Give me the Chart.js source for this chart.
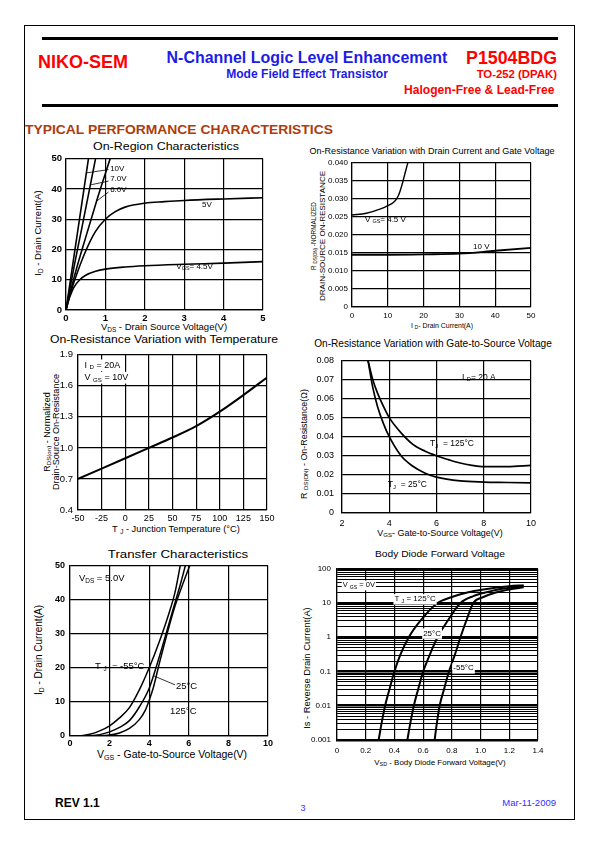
<!DOCTYPE html>
<html><head><meta charset="utf-8">
<script src="https://cdn.jsdelivr.net/npm/chart.js@4.4.1/dist/chart.umd.min.js"></script>
<style>
html,body{margin:0;padding:0;background:#fff;}
body{width:595px;height:842px;position:relative;overflow:hidden;font-family:"Liberation Sans",Arial,sans-serif;}
.t{position:absolute;white-space:nowrap;line-height:1;color:#000;}
.t sub{font-size:0.68em;vertical-align:-0.25em;line-height:0;}
canvas{position:absolute;}
.ln{position:absolute;background:#000;}
.frame{position:absolute;left:24px;top:25px;width:549px;height:793px;border:1px solid #000;}
</style></head><body>
<div class="frame"></div>
<div class="ln" style="left:42px;top:37px;width:516px;height:3px;"></div>
<div class="ln" style="left:42px;top:104px;width:516px;height:3px;"></div>
<script>
// ================= DATA =================
// 1) On-Region Characteristics: VDS (V) vs ID (A)
const onRegionVds10V = [0, 0.3, 0.57];
const onRegionId10V  = [0, 26.3, 50];
const onRegionVds7V  = [0, 0.2, 0.4, 0.75];
const onRegionId7V   = [0, 14, 27, 50];
const onRegionVds6V  = [0, 0.2, 0.5, 0.8, 1.12];
const onRegionId6V   = [0, 10.5, 24, 37, 50];
const onRegionVds5V  = [0, 0.1, 0.25, 0.5, 0.75, 1, 1.25, 1.5, 2, 2.5, 3, 4, 5];
const onRegionId5V   = [0, 5, 11, 19.5, 26, 30, 32.5, 34, 35.3, 35.8, 36.2, 36.7, 37.1];
const onRegionVds45V = [0, 0.05, 0.1, 0.2, 0.35, 0.5, 0.75, 1, 1.5, 2, 3, 4, 5];
const onRegionId45V  = [0, 2.5, 4.5, 7.5, 10, 11.5, 12.8, 13.5, 14.2, 14.6, 15.1, 15.5, 16];

// 2) On-Resistance vs Drain Current: ID (A) vs RDS(on) (ohm)
const rdsIdCurrent45V = [0, 4, 8, 10, 12, 13, 14, 15, 15.6];
const rdsIdValue45V   = [0.0255, 0.026, 0.0272, 0.0281, 0.0294, 0.031, 0.034, 0.0378, 0.040];
const rdsIdCurrent10V = [0, 10, 20, 30, 40, 50];
const rdsIdValue10V   = [0.0145, 0.0145, 0.0146, 0.0148, 0.0156, 0.0164];

// 3) On-Resistance vs Temperature: TJ (°C) vs normalized RDS(on)
const rdsTempT     = [-50, -25, 0, 25, 50, 75, 100, 125, 150];
const rdsTempNorm  = [0.70, 0.80, 0.90, 1.00, 1.10, 1.21, 1.35, 1.51, 1.68];

// 4) On-Resistance vs VGS: VGS (V) vs RDS(on) (ohm)
const rdsVgs125   = [3.1, 3.3, 3.5, 3.75, 4, 4.5, 5, 5.5, 6, 6.5, 7, 7.5, 8, 9, 10];
const rdsVal125   = [0.08, 0.07, 0.063, 0.056, 0.05, 0.042, 0.036, 0.0325, 0.030, 0.028, 0.0262, 0.025, 0.0243, 0.0243, 0.025];
const rdsVgs25    = [3.1, 3.3, 3.5, 3.75, 4, 4.5, 5, 5.5, 6, 7, 8, 9, 10];
const rdsVal25    = [0.08, 0.066, 0.056, 0.047, 0.040, 0.030, 0.0245, 0.021, 0.0188, 0.0168, 0.0162, 0.016, 0.0158];

// 5) Transfer Characteristics: VGS (V) vs ID (A)
const transferVgsM55 = [0.5, 1, 1.5, 2, 2.5, 3, 3.5, 4, 4.5, 5, 5.3, 5.57];
const transferIdM55  = [0, 0.5, 1.5, 3, 5.3, 8.3, 13.5, 20, 27.5, 36, 42, 50];
const transferVgs25  = [0.8, 1.5, 2, 2.5, 3, 3.5, 4, 4.5, 5, 5.3, 5.6, 5.83];
const transferId25   = [0, 0.4, 1.2, 2.5, 4.5, 8.5, 14, 23, 33, 39, 45, 50];
const transferVgs125 = [1.2, 2, 2.5, 3, 3.5, 3.8, 4, 4.2, 4.5, 5, 5.3, 5.6, 6.05];
const transferId125  = [0, 0.3, 0.9, 2.2, 4.8, 7.5, 10.5, 14, 21, 32, 38, 43, 50];

// 6) Body Diode Forward Voltage: VSD (V) vs IS (A)
const diodeVsd125 = [0.29, 0.31, 0.335, 0.365, 0.40, 0.44, 0.50, 0.58, 0.70, 0.80, 0.90, 1.00, 1.10, 1.20, 1.30];
const diodeIs125  = [0.001, 0.003, 0.01, 0.03, 0.1, 0.3, 1, 3, 10, 15, 20, 24, 28, 31, 33];
const diodeVsd25  = [0.49, 0.51, 0.535, 0.565, 0.60, 0.645, 0.70, 0.77, 0.86, 0.95, 1.05, 1.15, 1.30];
const diodeIs25   = [0.001, 0.003, 0.01, 0.03, 0.1, 0.3, 1, 3, 10, 16, 21, 26, 31];
const diodeVsdM55 = [0.68, 0.695, 0.715, 0.745, 0.78, 0.82, 0.86, 0.90, 0.95, 1.02, 1.10, 1.20, 1.30];
const diodeIsM55  = [0.001, 0.003, 0.01, 0.03, 0.1, 0.3, 1, 3, 10, 15, 20, 25, 29];
const diodeDecades = [0.001, 0.01, 0.1, 1, 10, 100];
const diodeMinorSteps = [1, 2, 3, 4, 5, 6, 7, 8, 9];

// ================= HELPERS =================
const F = '"Liberation Sans", Arial, sans-serif';

function T(html, x, y, o = {}) {
  const d = document.createElement('div');
  d.className = 't';
  d.innerHTML = html;
  d.style.left = x + 'px';
  d.style.top = y + 'px';
  d.style.fontSize = (o.size || 10) + 'px';
  if (o.bold) d.style.fontWeight = 'bold';
  if (o.color) d.style.color = o.color;
  document.body.appendChild(d);
  let sx = 1;
  if (o.width) sx = o.width / d.offsetWidth;
  let tr;
  if (o.rot) {
    tr = `translate(-50%,-50%) rotate(-90deg) scale(${sx},1)`;
  } else if (o.anchor === 'left') {
    d.style.transformOrigin = 'left center';
    tr = `translate(0,-50%) scale(${sx},1)`;
  } else if (o.anchor === 'right') {
    d.style.transformOrigin = 'right center';
    tr = `translate(-100%,-50%) scale(${sx},1)`;
  } else {
    tr = `translate(-50%,-50%) scale(${sx},1)`;
  }
  d.style.transform = tr;
  return d;
}

function drawRich(ctx, str, x, y, size, bold, bg) {
  const parts = []; const re = /_\{([^}]*)\}/g; let last = 0, m;
  while ((m = re.exec(str))) {
    if (m.index > last) parts.push({ t: str.slice(last, m.index) });
    parts.push({ t: m[1], sub: true });
    last = re.lastIndex;
  }
  if (last < str.length) parts.push({ t: str.slice(last) });
  const w = bold ? 'bold ' : '';
  let total = 0;
  parts.forEach(p => { ctx.font = w + (p.sub ? size * 0.68 : size) + 'px ' + F; p.w = ctx.measureText(p.t).width; total += p.w; });
  if (bg) { ctx.fillStyle = '#fff'; ctx.fillRect(x - 1, y - size * 0.62, total + 2, size * 1.3); }
  ctx.fillStyle = '#000'; ctx.textBaseline = 'middle'; ctx.textAlign = 'left';
  let cx = x;
  parts.forEach(p => {
    ctx.font = w + (p.sub ? size * 0.68 : size) + 'px ' + F;
    ctx.fillText(p.t, cx, p.sub ? y + size * 0.28 : y);
    cx += p.w;
  });
}

const notesPlugin = {
  id: 'notes',
  afterDatasetsDraw(chart, args, opts) {
    const { ctx, scales: { x, y } } = chart;
    ctx.save();
    (opts.lines || []).forEach(l => {
      ctx.beginPath();
      ctx.moveTo(x.getPixelForValue(l[0]), y.getPixelForValue(l[1]));
      ctx.lineTo(x.getPixelForValue(l[2]), y.getPixelForValue(l[3]));
      ctx.lineWidth = 0.8; ctx.strokeStyle = '#000'; ctx.stroke();
    });
    (opts.labels || []).forEach(lb => drawRich(ctx, lb.text, x.getPixelForValue(lb.x), y.getPixelForValue(lb.y), lb.size || 8, lb.bold, lb.bg));
    ctx.restore();
  }
};
Chart.register(notesPlugin);

function series(xs, ys, w) {
  return { data: xs.map((v, i) => ({ x: v, y: ys[i] })), borderColor: '#000', borderWidth: w || 1.6,
    pointRadius: 0, cubicInterpolationMode: 'monotone', fill: false, showLine: true };
}

function linAxis(min, max, step, size, bold, pad, cb) {
  return {
    type: 'linear', min, max,
    ticks: { stepSize: step, color: '#000', font: { family: F, size, weight: bold ? 'bold' : 'normal' }, padding: pad, autoSkip: false, maxRotation: 0,
      callback: cb || (v => String(v)) },
    grid: { color: '#000', lineWidth: 1.2, drawTicks: false },
    border: { color: '#000', width: 1.2 }
  };
}

function makeChart(area, yW, xH, datasets, scales, notes) {
  const padL = 4, padT = 8, padR = 16, padB = 2;
  const c = document.createElement('canvas');
  const W = (area.r - area.l) + yW + padL + padR, H = (area.b - area.t) + padT + xH + padB;
  c.width = W; c.height = H; c.style.width = W + 'px'; c.style.height = H + 'px';
  c.style.left = (area.l - yW - padL) + 'px'; c.style.top = (area.t - padT) + 'px';
  document.body.appendChild(c);
  scales.x.afterFit = s => { s.height = xH; };
  scales.y.afterFit = s => { s.width = yW; };
  return new Chart(c, {
    type: 'line',
    data: { datasets },
    options: {
      responsive: false, maintainAspectRatio: false, animation: false, devicePixelRatio: 1, events: [],
      layout: { padding: { left: padL, top: padT, right: padR, bottom: padB } },
      plugins: { legend: { display: false }, tooltip: { enabled: false }, title: { display: false }, notes: notes || {} },
      scales
    }
  });
}

// ================= PAGE TEXT =================
const RED = '#ff0000', BLUE = '#1c1ce8', BROWN = '#ae3b0c';
T('NIKO-SEM', 38, 62, { size: 18, bold: true, color: RED, anchor: 'left', width: 90 });
T('N-Channel Logic Level Enhancement', 307, 58, { size: 16, bold: true, color: BLUE, width: 281 });
T('Mode Field Effect Transistor', 307, 74, { size: 12, bold: true, color: BLUE, width: 162 });
T('P1504BDG', 466, 58, { size: 18, bold: true, color: RED, anchor: 'left', width: 91 });
T('TO-252 (DPAK)', 557, 75, { size: 11.5, bold: true, color: RED, anchor: 'right', width: 80 });
T('Halogen-Free &amp; Lead-Free', 404, 90, { size: 12, bold: true, color: RED, anchor: 'left', width: 150 });
T('TYPICAL PERFORMANCE CHARACTERISTICS', 25, 130, { size: 13.7, bold: true, color: BROWN, anchor: 'left', width: 308 });
T('REV 1.1', 55, 803, { size: 12, bold: true, anchor: 'left', width: 45 });
T('3', 303, 808, { size: 9, color: '#3030ff' });
T('Mar-11-2009', 556, 803, { size: 9.5, color: '#3030ff', anchor: 'right' });

// ================= CHART 1 =================
T('On-Region Characteristics', 166, 146, { size: 11, width: 146 });
T('V<sub>DS</sub> - Drain Source Voltage(V)', 164, 327, { size: 9.5, width: 126 });
T('I<sub>D</sub> - Drain Current(A)', 38, 233, { size: 9.5, rot: true, width: 85 });
makeChart({ l: 66, r: 263, t: 157, b: 310 }, 40, 20, [
  series(onRegionVds10V, onRegionId10V),
  series(onRegionVds7V, onRegionId7V),
  series(onRegionVds6V, onRegionId6V),
  series(onRegionVds5V, onRegionId5V),
  series(onRegionVds45V, onRegionId45V)
], {
  x: linAxis(0, 5, 1, 9.5, true, 3),
  y: linAxis(0, 50, 10, 9.5, true, 4)
}, {
  labels: [
    { text: '10V', x: 1.12, y: 46.8, size: 8 },
    { text: '7.0V', x: 1.12, y: 43.2, size: 8 },
    { text: '6.0V', x: 1.12, y: 39.6, size: 8 },
    { text: '5V', x: 3.45, y: 34.8, size: 8 },
    { text: 'V_{GS}= 4.5V', x: 2.8, y: 14.4, size: 8 }
  ],
  lines: [[1.08, 46.4, 0.52, 45.3], [1.08, 42.6, 0.64, 41.4], [1.08, 39.0, 0.78, 36.0]]
});

// ================= CHART 2 =================
T('On-Resistance Variation with Drain Current and Gate Voltage', 432, 151, { size: 9, width: 245 });
T('I <sub>D</sub>- Drain Current(A)', 442, 326, { size: 8, width: 62 });
T('R <sub>DS(ON)</sub> -NORMALIZED', 314, 236, { size: 8, rot: true, width: 68 });
T('DRAIN-SOURCE ON-RESISTANCE', 323, 236, { size: 8, rot: true, width: 130 });
makeChart({ l: 352, r: 531, t: 162, b: 307 }, 40, 20, [
  series(rdsIdCurrent45V, rdsIdValue45V, 1.4),
  series(rdsIdCurrent10V, rdsIdValue10V, 1.8)
], {
  x: linAxis(0, 50, 10, 8, false, 4),
  y: linAxis(0, 0.04, 0.005, 8, false, 4, v => v === 0 ? '0' : v.toFixed(3))
}, {
  labels: [
    { text: 'V _{GS}= 4.5 V', x: 3.6, y: 0.0243, size: 8 },
    { text: '10 V', x: 33.8, y: 0.0168, size: 8 }
  ]
});

// ================= CHART 3 =================
T('On-Resistance Variation with Temperature', 164, 340, { size: 11.5, width: 228 });
T('T <sub>J</sub> - Junction Temperature (°C)', 176, 529, { size: 9.5, width: 128 });
T('R<sub>DS(on)</sub> - Normalized', 47, 432, { size: 9, rot: true });
T('Drain-Source On-Resistance', 56, 432, { size: 9, rot: true, width: 116 });
makeChart({ l: 78, r: 267, t: 352, b: 510 }, 40, 20, [
  series(rdsTempT, rdsTempNorm, 2)
], {
  x: linAxis(-50, 150, 25, 9, false, 3),
  y: linAxis(0.4, 1.9, 0.3, 9.5, false, 5, v => v.toFixed(1))
}, {
  labels: [
    { text: 'I _{D} = 20A', x: -43, y: 1.8, size: 9, bg: true },
    { text: 'V _{GS} = 10V', x: -43, y: 1.68, size: 9, bg: true }
  ]
});

// ================= CHART 4 =================
T('On-Resistance Variation with Gate-to-Source Voltage', 433, 344, { size: 10, width: 238 });
T('V<sub>GS</sub>- Gate-to-Source Voltage(V)', 440, 533, { size: 8.5, width: 125 });
T('R <sub>DS(ON)</sub> - On-Resistance(Ω)', 304, 444, { size: 8.5, rot: true, width: 110 });
makeChart({ l: 342, r: 531, t: 355, b: 513 }, 40, 20, [
  series(rdsVgs125, rdsVal125, 1.7),
  series(rdsVgs25, rdsVal25, 1.7)
], {
  x: linAxis(2, 10, 2, 9, false, 5),
  y: linAxis(0, 0.08, 0.01, 9, false, 8, v => v === 0 ? '0' : v.toFixed(2))
}, {
  labels: [
    { text: 'I _{D}= 20 A', x: 7.08, y: 0.0712, size: 8.5 },
    { text: 'T_{J}  = 125°C', x: 5.73, y: 0.0361, size: 8.5 },
    { text: 'T_{J}  = 25°C', x: 3.94, y: 0.0147, size: 8.5 }
  ]
});

// ================= CHART 5 =================
T('Transfer Characteristics', 178, 554, { size: 11, width: 140 });
T('V<sub>GS</sub> - Gate-to-Source Voltage(V)', 172, 755, { size: 10, width: 150 });
T('I<sub>D</sub> - Drain Current(A)', 39, 650, { size: 10, rot: true, width: 90 });
makeChart({ l: 70, r: 268, t: 563, b: 736 }, 40, 20, [
  series(transferVgsM55, transferIdM55, 1.5),
  series(transferVgs25, transferId25, 1.5),
  series(transferVgs125, transferId125, 1.5)
], {
  x: linAxis(0, 10, 2, 9, true, 2),
  y: linAxis(0, 50, 10, 9, true, 5)
}, {
  labels: [
    { text: 'V_{DS} = 5.0V', x: 0.45, y: 46.2, size: 9.5 },
    { text: 'T _{J}  = -55°C', x: 1.26, y: 20.5, size: 9.5 },
    { text: '25°C', x: 5.35, y: 14.5, size: 9.5 },
    { text: '125°C', x: 5.05, y: 7.3, size: 9.5 }
  ],
  lines: [[4.24, 17.6, 5.3, 15.0]]
});

// ================= CHART 6 =================
T('Body Diode Forward Voltage', 440, 554, { size: 9.5, width: 130 });
T('V<sub>SD</sub> - Body Diode Forward Voltage(V)', 440, 763, { size: 8, width: 132 });
T('Is - Reverse Drain Current(A)', 307, 668, { size: 8.5, rot: true, width: 122 });
const diodeTickList = [];
diodeDecades.forEach(d => {
  if (d === 100) { diodeTickList.push({ value: d, major: true }); return; }
  diodeMinorSteps.forEach(m => diodeTickList.push({ value: m * d, major: m === 1 }));
});
const c6x = linAxis(0, 1.4, 0.2, 8, false, 6, v => v === 0 ? '0' : v.toFixed(1));
const c6y = {
  type: 'logarithmic', min: 0.001, max: 100,
  afterBuildTicks: s => { s.ticks = diodeTickList.map(t => ({ value: t.value, major: t.major })); },
  ticks: { color: '#000', font: { family: F, size: 8 }, padding: 6, autoSkip: false,
    callback: (v, i, ticks) => ticks[i] && ticks[i].major ? String(diodeDecades.find(d => Math.abs(d - v) / d < 1e-6)) : '' },
  grid: { color: '#000', lineWidth: ctx => (ctx.tick && ctx.tick.major) ? 2.6 : 1, drawTicks: false },
  border: { color: '#000', width: 1.2 }
};
makeChart({ l: 337, r: 538, t: 566, b: 740 }, 40, 20, [
  series(diodeVsd125, diodeIs125, 2),
  series(diodeVsd25, diodeIs25, 2),
  series(diodeVsdM55, diodeIsM55, 2)
], { x: c6x, y: c6y }, {
  labels: [
    { text: 'V _{GS} = 0V', x: 0.04, y: 33, size: 7.5, bg: true },
    { text: 'T _{J} = 125°C', x: 0.40, y: 13, size: 8, bg: true },
    { text: '25°C', x: 0.6, y: 1.3, size: 8, bg: true },
    { text: '-55°C', x: 0.81, y: 0.125, size: 8, bg: true }
  ]
});
</script>
</body></html>
